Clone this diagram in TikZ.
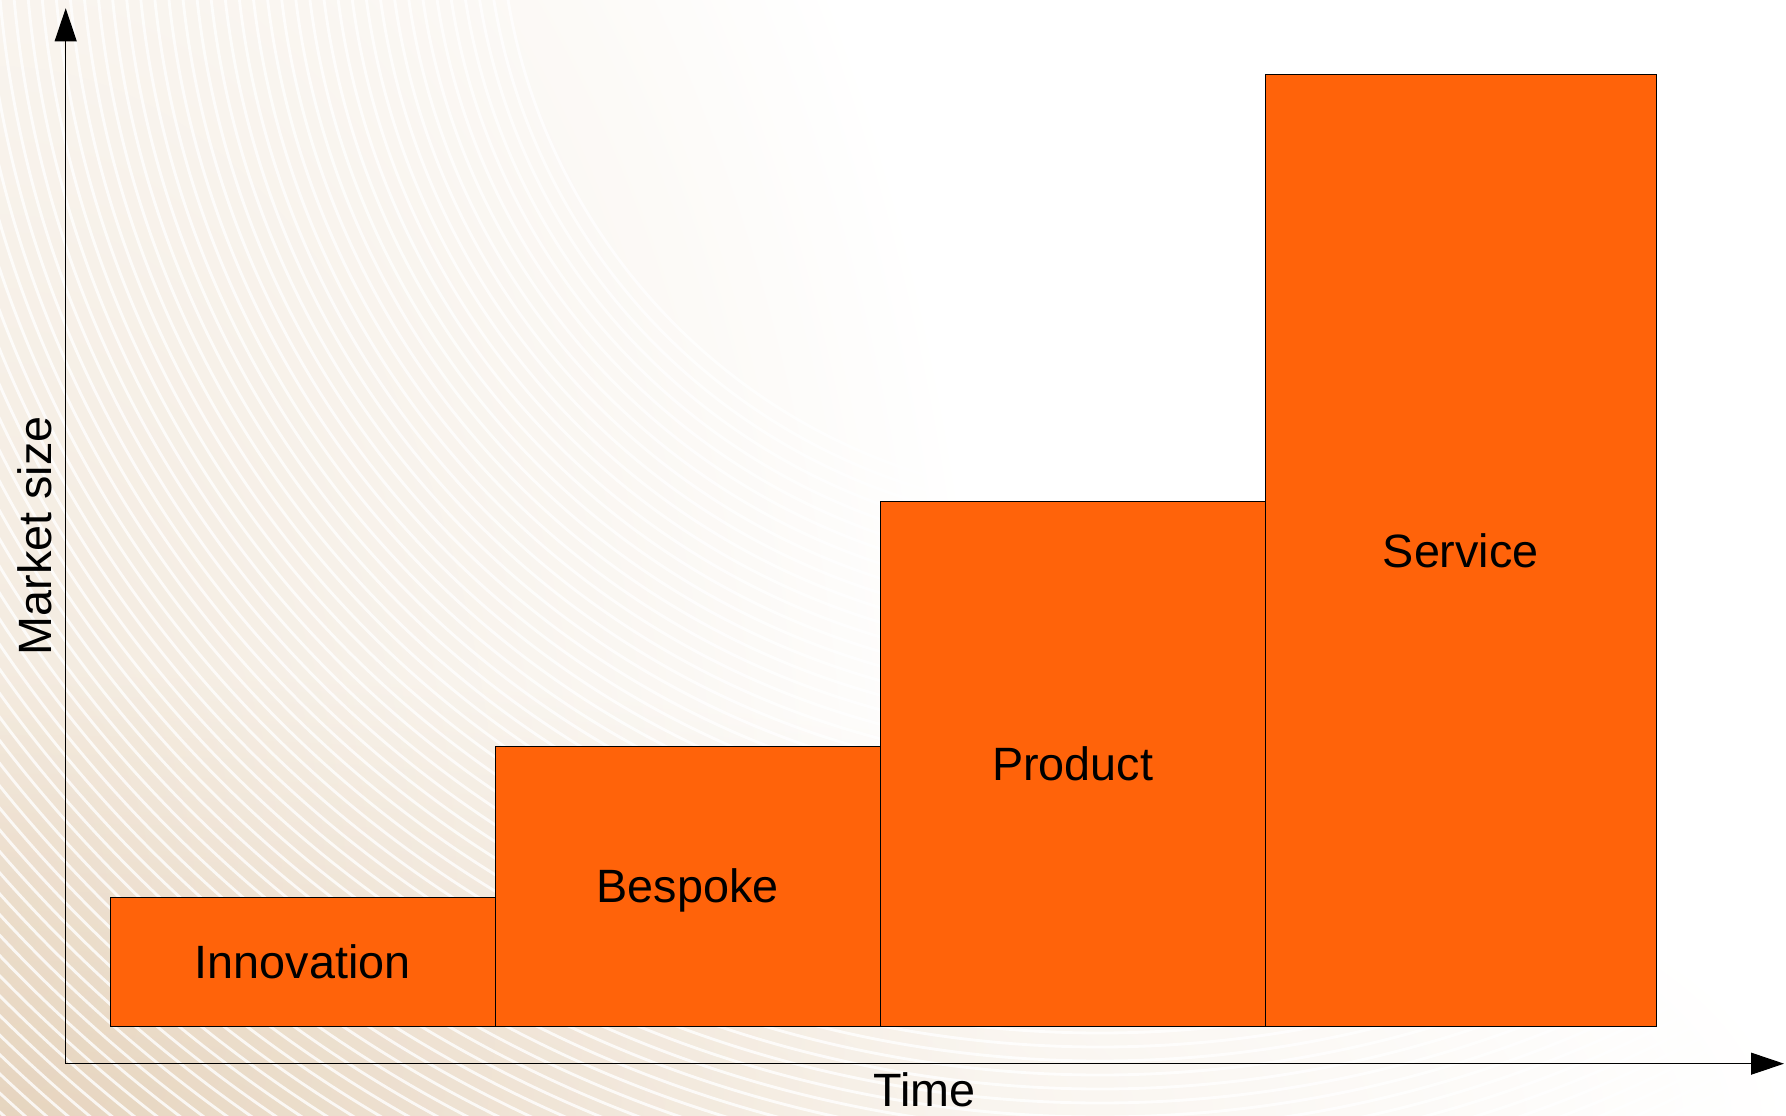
\documentclass[tikz,border=0pt]{standalone}
\usepackage{fontspec}
\setmainfont{Liberation Sans}
\usetikzlibrary{arrows.meta}

\definecolor{barorange}{RGB}{255,99,10}
\definecolor{swirl}{RGB}{242,232,219}

\tikzset{
	bar/.style={draw=black, line width=0.5pt, fill=barorange, anchor=south west,
		outer sep=0pt, inner sep=0pt, text height=19pt, text depth=0pt},
	axis/.style={line width=0.6pt, -{Triangle[length=0.66cm,width=0.44cm]}},
	axislabel/.style={inner sep=0pt, text height=19pt, text depth=0pt}
}

\begin{document}
\begin{tikzpicture}[font=\fontsize{26.6}{32}\selectfont]
	\useasboundingbox (0,0) rectangle (35.72,22.32);

	% faint swirl in the background
	\begin{scope}
		\clip (0,0) rectangle (35.72,22.32);
		\begin{scope}[blend mode=multiply]
			\shade[inner color=swirl, outer color=white] (0,4) ellipse (20 and 34);
			\shade[inner color=swirl, outer color=white] (0,0) ellipse (36 and 9);
		\end{scope}
		\foreach \r in {12,12.28,...,34}
			\draw
				[white, line width=1.6pt, opacity=0.8]
				(22,24.3) ++(170:\r) arc (170:300:\r);
	\end{scope}

	\coordinate (origin) at (1.314,1.046);
	\coordinate (ytip) at (1.314,22.154);
	\coordinate (xtip) at (35.68,1.046);

	\draw
		[axis] (origin) -- (ytip);

	\draw
		[axis] (origin) -- (xtip);

	\node [axislabel, rotate=90] (market) at (0.70,11.60) {Market size};
	\node [axislabel] (time) at (18.49,0.52) {Time};

	\foreach \x/\w/\h/\name/\txt in {2.20/7.71/2.59/innovation/Innovation,
			9.91/7.69/5.61/bespoke/Bespoke,
			17.60/7.71/10.50/product/Product,
			25.31/7.81/19.04/service/Service}
		\node
			[bar, minimum width=\w cm, minimum height=\h cm]
			(\name) at (\x,1.79) {\txt};
\end{tikzpicture}
\end{document}
